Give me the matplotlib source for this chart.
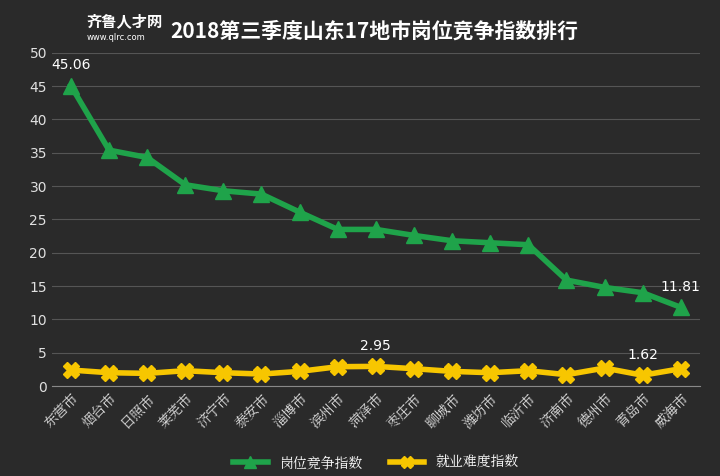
import matplotlib
matplotlib.use("Agg")
import matplotlib.pyplot as plt
from matplotlib import font_manager as fm

cands = [f for f in fm.fontManager.ttflist if "CJK" in f.name and "SC" in f.name] or \
        [f for f in fm.fontManager.ttflist if "CJK" in f.name]
def pick(w):
    return min(cands, key=lambda f: abs((f.weight if isinstance(f.weight, int) else 400) - w)).fname
reg = fm.FontProperties(fname=pick(400))
bold = fm.FontProperties(fname=pick(700))

cities = ["东营市", "烟台市", "日照市", "莱芜市", "济宁市", "泰安市", "淄博市", "滨州市", "菏泽市",
          "枣庄市", "聊城市", "潍坊市", "临沂市", "济南市", "德州市", "青岛市", "威海市"]
competition = [45.06, 35.4, 34.3, 30.2, 29.3, 28.8, 26.1, 23.5, 23.5, 22.6, 21.8, 21.5, 21.2, 15.9, 14.8, 14.0, 11.81]
difficulty = [2.4, 2.0, 1.9, 2.3, 2.0, 1.8, 2.2, 2.9, 2.95, 2.6, 2.2, 2.0, 2.3, 1.7, 2.7, 1.62, 2.6]
yticks = [0, 5, 10, 15, 20, 25, 30, 35, 40, 45, 50]

bg = "#2a2a2a"
green = "#1fa34a"
yellow = "#f7c600"

fig = plt.figure(figsize=(7.2, 4.76), dpi=100, facecolor=bg)
ax = fig.add_axes([0.072, 0.189, 0.90, 0.70], facecolor=bg)
x = list(range(len(cities)))
ax.plot(x, competition, color=green, lw=4, marker="^", ms=12, label="岗位竞争指数", zorder=3)
ax.plot(x, difficulty, color=yellow, lw=4, marker="X", ms=12, label="就业难度指数", zorder=3)

ax.set_ylim(0, 50)
ax.set_xlim(-0.5, len(cities) - 0.5)
ax.set_yticks(yticks)
ax.yaxis.grid(True, color="#555555", lw=0.8)
ax.set_axisbelow(True)
for s in ["top", "right", "left"]:
    ax.spines[s].set_visible(False)
ax.spines["bottom"].set_color("#888888")
ax.tick_params(axis="y", colors="#e0e0e0", labelsize=10, length=0)
ax.tick_params(axis="x", colors="#e0e0e0", length=0)
ax.set_xticks(x)
ax.set_xticklabels(cities, rotation=45, ha="right", rotation_mode="anchor", fontproperties=reg, fontsize=10)

for i, arr in [(0, competition), (16, competition), (8, difficulty), (15, difficulty)]:
    ax.annotate(f"{arr[i]:.2f}", (i, arr[i]), xytext=(0, 12), textcoords="offset points",
                ha="center", color="white", fontsize=10)

leg_prop = fm.FontProperties(fname=reg.get_file(), size=10)
ax.legend(loc="upper center", bbox_to_anchor=(0.5, -0.17), ncol=2, frameon=False,
          labelcolor="white", prop=leg_prop, handlelength=2.5, markerscale=0.7)

fig.text(0.52, 0.935, "2018第三季度山东17地市岗位竞争指数排行", ha="center", va="center",
         color="white", fontproperties=bold, fontsize=15)
fig.text(0.12, 0.955, "齐鲁人才网", ha="left", va="center", color="white", fontproperties=bold, fontsize=11)
fig.text(0.12, 0.922, "www.qlrc.com", ha="left", va="center", color="white", fontsize=6)

fig.savefig("out.png", dpi=100, facecolor=bg)
